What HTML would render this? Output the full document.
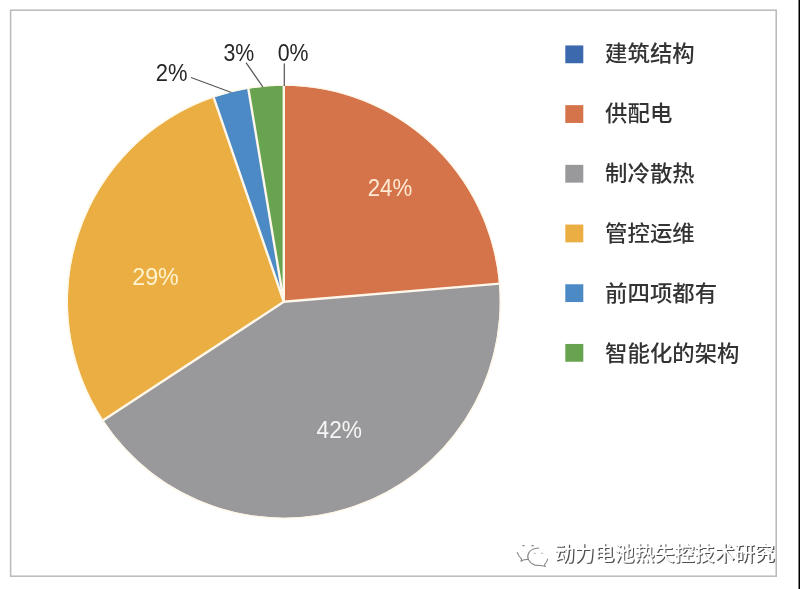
<!DOCTYPE html>
<html lang="zh"><head><meta charset="utf-8"><title>chart</title>
<style>
html,body{margin:0;padding:0;background:#fff;}
body{width:800px;height:589px;overflow:hidden;position:relative;}
svg{display:block;position:absolute;left:0;top:0;}
.lb{font-family:"Liberation Sans",sans-serif;font-size:23.3px;fill:#262626;}
.li{font-family:"Liberation Sans",sans-serif;font-size:23.6px;fill:#FFF1DD;}
.lg{font-family:"Liberation Sans","Noto Sans CJK SC",sans-serif;font-size:22.4px;font-weight:500;fill:#333;}
.wm{font-family:"Liberation Sans","Noto Sans CJK SC",sans-serif;font-size:20.05px;font-weight:500;}
</style></head><body>
<svg width="800" height="589" viewBox="0 0 800 589">
<rect x="0" y="0" width="800" height="589" fill="#fff"/>
<rect x="798.5" y="0" width="1.5" height="589" fill="#000"/>
<rect x="10.6" y="10.2" width="765.6" height="566" fill="none" stroke="#B9B9B9" stroke-width="1.5"/>
<path d="M283.8 301.75 L283.80 85.85 A215.9 215.9 0 0 1 498.94 283.68 Z" fill="#D5734A"/>
<path d="M283.8 301.75 L498.94 283.68 A215.9 215.9 0 0 1 103.35 420.28 Z" fill="#99999B"/>
<path d="M283.8 301.75 L103.35 420.28 A215.9 215.9 0 0 1 213.69 97.55 Z" fill="#EAAE43"/>
<path d="M283.8 301.75 L213.69 97.55 A215.9 215.9 0 0 1 248.35 88.78 Z" fill="#4B8AC4"/>
<path d="M283.8 301.75 L248.35 88.78 A215.9 215.9 0 0 1 283.80 85.85 Z" fill="#68A350"/>
<circle cx="283.8" cy="301.75" r="216.6" fill="none" stroke="#FFF6E4" stroke-width="1.4" opacity="0.8"/>
<g stroke="#FFF8EA" stroke-width="2.4" stroke-linecap="round">
<line x1="283.8" y1="301.75" x2="283.80" y2="85.25"/>
<line x1="283.8" y1="301.75" x2="499.54" y2="283.63"/>
<line x1="283.8" y1="301.75" x2="102.85" y2="420.61"/>
<line x1="283.8" y1="301.75" x2="213.49" y2="96.98"/>
<line x1="283.8" y1="301.75" x2="248.25" y2="88.19"/>
</g>
<g stroke="#585858" stroke-width="1.25" fill="none">
<line x1="191" y1="77.5" x2="231.5" y2="92.5"/>
<line x1="246" y1="62.6" x2="262.8" y2="86.9"/>
<line x1="284.3" y1="63.5" x2="284.3" y2="86"/>
</g>
<text x="155.7" y="81.3" class="lb" textLength="31.7" lengthAdjust="spacingAndGlyphs">2%</text>
<text x="223.5" y="61.2" class="lb" textLength="30.8" lengthAdjust="spacingAndGlyphs">3%</text>
<text x="277.7" y="61.2" class="lb" textLength="30.8" lengthAdjust="spacingAndGlyphs">0%</text>
<text x="367.7" y="196" class="li" style="fill:#FFEAD4" textLength="44.5" lengthAdjust="spacingAndGlyphs">24%</text>
<text x="316.5" y="438.1" class="li" style="fill:#F6F6F6" textLength="45.5" lengthAdjust="spacingAndGlyphs">42%</text>
<text x="132.2" y="284.6" class="li" style="fill:#FFF3CF" textLength="46.6" lengthAdjust="spacingAndGlyphs">29%</text>
<rect x="565.3" y="45.45" width="18" height="17.8" fill="#3C68AE"/>
<text transform="translate(605.1,61.20) scale(1,0.955)" class="lg">建筑结构</text>
<rect x="565.3" y="105.15" width="18" height="17.8" fill="#D5734A"/>
<text transform="translate(605.1,121.10) scale(1,0.955)" class="lg">供配电</text>
<rect x="565.3" y="164.85" width="18" height="17.8" fill="#99999B"/>
<text transform="translate(605.1,181.00) scale(1,0.955)" class="lg">制冷散热</text>
<rect x="565.3" y="224.55" width="18" height="17.8" fill="#EAAE43"/>
<text transform="translate(605.1,240.90) scale(1,0.955)" class="lg">管控运维</text>
<rect x="565.3" y="284.25" width="18" height="17.8" fill="#4B8AC4"/>
<text transform="translate(605.1,300.80) scale(1,0.955)" class="lg">前四项都有</text>
<rect x="565.3" y="343.95" width="18" height="17.8" fill="#68A350"/>
<text transform="translate(605.1,360.70) scale(1,0.955)" class="lg">智能化的架构</text>
<g fill="none" stroke="#6a6a6a" stroke-width="1.1" stroke-linecap="round" stroke-linejoin="round" opacity="0.8">
<path d="M538.8 548 Q531.5 548.4 528.9 552.6 Q526.8 556.2 528.4 559.6 Q530.8 564 535.2 565.1 L542.5 565.7 L545.2 566.6 L544.6 564.4 Q547.2 562 547.6 559"/>
<path d="M517.2 552.4 Q518.6 556.6 521.6 559 L521 561.2 L524 559.7 L528.2 559.4"/>
<path d="M522.8 545.6 h1.4 M531.8 545.6 h1.6"/>
<path d="M534.2 553.4 h1.2 M541.4 553.4 h1.2" opacity="0.5"/>
</g>
<g class="wm">
<text x="555.4" y="561.6" fill="#505050" style="filter:url(#b)">动力电池热失控技术研究</text>
<text x="554.3" y="560.5" fill="#fff">动力电池热失控技术研究</text>
</g>
<defs><filter id="b" x="-5%" y="-20%" width="110%" height="140%"><feGaussianBlur stdDeviation="0.35"/></filter></defs>
</svg>
</body></html>
